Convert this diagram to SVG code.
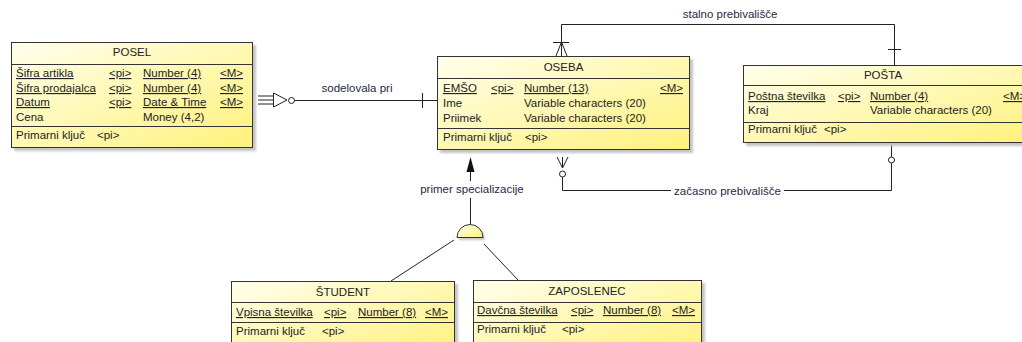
<svg xmlns="http://www.w3.org/2000/svg" width="1022" height="342" viewBox="0 0 1022 342">
  <defs>
    <linearGradient id="entFill" x1="0" y1="0" x2="1" y2="1">
      <stop offset="0" stop-color="#FFFFEC"/>
      <stop offset="1" stop-color="#FFF17C"/>
    </linearGradient>
    <filter id="soft" x="-5%" y="-5%" width="115%" height="115%">
      <feGaussianBlur stdDeviation="1"/>
    </filter>
  </defs>
  <style>
    text { font-family: "Liberation Sans", Arial, sans-serif; font-size: 11.5px; fill: #222; }
    .title { text-anchor: middle; }
    .pk { text-decoration: underline; }
    .lbl { fill: #1f2a44; }
    .shadow { fill: #c4c4c4; filter: url(#soft); }
    .box { fill: url(#entFill); stroke: #333; stroke-width: 1; }
    .sep { stroke: #333; stroke-width: 1; }
    .ln { stroke: #222; stroke-width: 1; fill: none; }
    .hollow { stroke: #222; stroke-width: 1; fill: #fff; }
  </style>
  <rect width="1022" height="342" fill="#fff"/>

  <!-- relationships and inheritance links -->
  <g id="connectors">
    <!-- sodelovala pri -->
    <line class="ln" x1="258" y1="96" x2="273" y2="96"/>
    <line class="ln" x1="258" y1="100" x2="273" y2="100"/>
    <line class="ln" x1="258" y1="104" x2="273" y2="104"/>
    <path class="hollow" d="M273.5,93 L287,100 L273.5,107 Z"/>
    <circle class="hollow" cx="291.5" cy="100.5" r="3"/>
    <line class="ln" x1="294.5" y1="100.5" x2="437" y2="100.5"/>
    <line class="ln" x1="422.5" y1="93" x2="422.5" y2="108"/>
    <text class="lbl" x="357" y="92" text-anchor="middle">sodelovala pri</text>

    <!-- stalno prebivališče -->
    <path class="ln" d="M561.5,56 V24.5 H894.5 V65"/>
    <line class="ln" x1="553" y1="42.5" x2="569" y2="42.5"/>
    <path class="ln" d="M561.5,42 L556,56 M561.5,42 L567,56 M561.5,42 V56"/>
    <line class="ln" x1="888" y1="49.5" x2="901" y2="49.5"/>
    <text class="lbl" x="730" y="18" text-anchor="middle">stalno prebivališče</text>

    <!-- začasno prebivališče -->
    <path class="ln" d="M557,157 L562.5,168 L568,157 M562.5,157 V168"/>
    <circle class="hollow" cx="562.5" cy="174" r="3"/>
    <path class="ln" d="M562.5,177 V190.5 H671 M784,190.5 H891.5 V163"/>
    <line class="ln" x1="891.5" y1="142" x2="891.5" y2="157"/>
    <circle class="hollow" cx="891.5" cy="160" r="3"/>
    <text class="lbl" x="727.5" y="194.5" text-anchor="middle">začasno prebivališče</text>

    <!-- primer specializacije -->
    <path d="M470.5,157 L474.5,172 L466.5,172 Z" fill="#111"/>
    <line class="ln" x1="470.5" y1="172" x2="470.5" y2="181"/>
    <line class="ln" x1="470.5" y1="198" x2="470.5" y2="224"/>
    <text class="lbl" x="472" y="193" text-anchor="middle">primer specializacije</text>
    <line class="ln" x1="454" y1="240" x2="391" y2="281"/>
    <line class="ln" x1="484" y1="244" x2="518" y2="280"/>
  </g>

  <!-- inheritance symbol -->
  <g id="inheritance">
    <path class="shadow" d="M459,240 A13,13 0 0 1 485,240 Z"/>
    <path class="box" d="M457,237.5 A13,13 0 0 1 483,237.5 Z"/>
  </g>

  <!-- POSEL -->
  <g id="posel">
    <rect class="shadow" x="14" y="45" width="242" height="106"/>
    <rect class="box" x="11.5" y="42.5" width="241" height="105"/>
    <line class="sep" x1="11.5" y1="64.5" x2="252.5" y2="64.5"/>
    <line class="sep" x1="11.5" y1="126.5" x2="252.5" y2="126.5"/>
    <text class="title" x="132" y="56">POSEL</text>
    <text class="pk" x="16" y="77">Šifra artikla</text>
    <text class="pk" x="109" y="77">&lt;pi&gt;</text>
    <text class="pk" x="143" y="77">Number (4)</text>
    <text class="pk" x="220" y="77">&lt;M&gt;</text>
    <text class="pk" x="16" y="92">Šifra prodajalca</text>
    <text class="pk" x="109" y="92">&lt;pi&gt;</text>
    <text class="pk" x="143" y="92">Number (4)</text>
    <text class="pk" x="220" y="92">&lt;M&gt;</text>
    <text class="pk" x="16" y="106">Datum</text>
    <text class="pk" x="109" y="106">&lt;pi&gt;</text>
    <text class="pk" x="143" y="106">Date &amp; Time</text>
    <text class="pk" x="220" y="106">&lt;M&gt;</text>
    <text x="16" y="121">Cena</text>
    <text x="143" y="121">Money (4,2)</text>
    <text x="16" y="139">Primarni ključ</text>
    <text x="97" y="139">&lt;pi&gt;</text>
  </g>

  <!-- OSEBA -->
  <g id="oseba">
    <rect class="shadow" x="440" y="59" width="253" height="94"/>
    <rect class="box" x="437.5" y="56.5" width="252" height="93"/>
    <line class="sep" x1="437.5" y1="78.5" x2="689.5" y2="78.5"/>
    <line class="sep" x1="437.5" y1="128.5" x2="689.5" y2="128.5"/>
    <text class="title" x="563.5" y="71">OSEBA</text>
    <text class="pk" x="443" y="92">EMŠO</text>
    <text class="pk" x="491" y="92">&lt;pi&gt;</text>
    <text class="pk" x="524" y="92">Number (13)</text>
    <text class="pk" x="660" y="92">&lt;M&gt;</text>
    <text x="443" y="107">Ime</text>
    <text x="524" y="107">Variable characters (20)</text>
    <text x="443" y="122">Priimek</text>
    <text x="524" y="122">Variable characters (20)</text>
    <text x="443" y="141">Primarni ključ</text>
    <text x="525" y="141">&lt;pi&gt;</text>
  </g>

  <!-- POŠTA (runs past the right edge) -->
  <g id="posta">
    <rect class="shadow" x="746" y="68" width="290" height="78"/>
    <rect class="box" x="743.5" y="65.5" width="290" height="77"/>
    <line class="sep" x1="743.5" y1="85.5" x2="1033.5" y2="85.5"/>
    <line class="sep" x1="743.5" y1="122.5" x2="1033.5" y2="122.5"/>
    <text class="title" x="883" y="79">POŠTA</text>
    <text class="pk" x="748" y="100">Poštna številka</text>
    <text class="pk" x="838" y="100">&lt;pi&gt;</text>
    <text class="pk" x="870" y="100">Number (4)</text>
    <text class="pk" x="1003" y="100">&lt;M&gt;</text>
    <text x="748" y="114">Kraj</text>
    <text x="870" y="114">Variable characters (20)</text>
    <text x="748" y="133">Primarni ključ</text>
    <text x="824" y="133">&lt;pi&gt;</text>
  </g>

  <!-- ŠTUDENT -->
  <g id="student">
    <rect class="shadow" x="234" y="284" width="224" height="70"/>
    <rect class="box" x="231.5" y="281.5" width="223" height="70"/>
    <line class="sep" x1="231.5" y1="302.5" x2="454.5" y2="302.5"/>
    <line class="sep" x1="231.5" y1="322.5" x2="454.5" y2="322.5"/>
    <text class="title" x="343" y="296">ŠTUDENT</text>
    <text class="pk" x="236" y="316">Vpisna številka</text>
    <text class="pk" x="324" y="316">&lt;pi&gt;</text>
    <text class="pk" x="358" y="316">Number (8)</text>
    <text class="pk" x="425" y="316">&lt;M&gt;</text>
    <text x="236" y="335">Primarni ključ</text>
    <text x="322" y="335">&lt;pi&gt;</text>
  </g>

  <!-- ZAPOSLENEC -->
  <g id="zaposlenec">
    <rect class="shadow" x="476" y="283" width="229" height="70"/>
    <rect class="box" x="473.5" y="280.5" width="228" height="70"/>
    <line class="sep" x1="473.5" y1="302.5" x2="701.5" y2="302.5"/>
    <line class="sep" x1="473.5" y1="322.5" x2="701.5" y2="322.5"/>
    <text class="title" x="587" y="295">ZAPOSLENEC</text>
    <text class="pk" x="477" y="314">Davčna številka</text>
    <text class="pk" x="571" y="314">&lt;pi&gt;</text>
    <text class="pk" x="603" y="314">Number (8)</text>
    <text class="pk" x="672" y="314">&lt;M&gt;</text>
    <text x="477" y="333">Primarni ključ</text>
    <text x="562" y="333">&lt;pi&gt;</text>
  </g>
</svg>
